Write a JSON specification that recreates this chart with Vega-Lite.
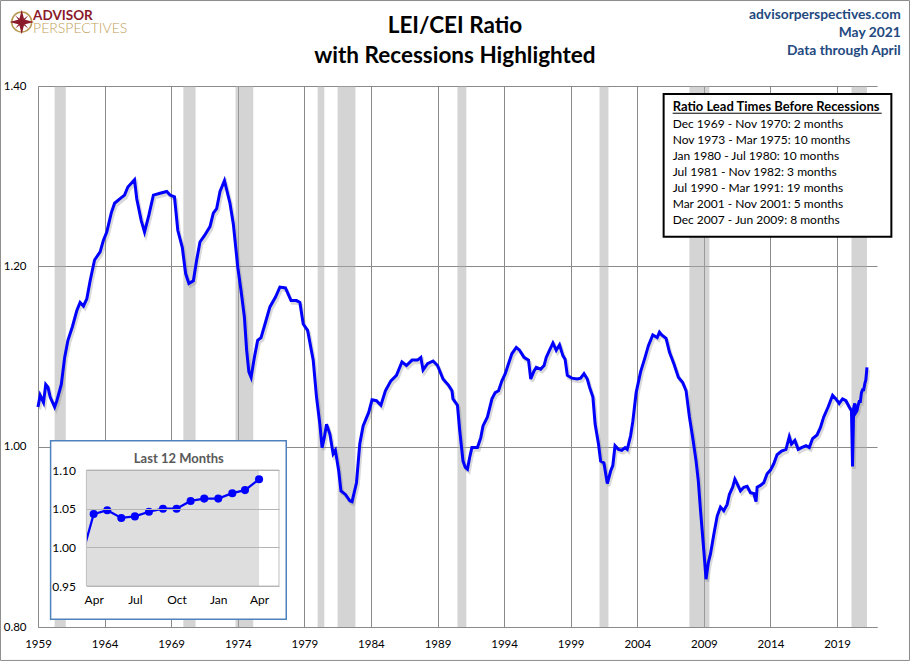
{
  "$schema": "https://vega.github.io/schema/vega-lite/v6.json",
  "autosize": "none",
  "width": 839,
  "height": 541,
  "padding": {"left": 38, "top": 86, "right": 33, "bottom": 34},
  "background": "white",
  "datasets": {
    "ratio": [
      {"date": "1959-01-01", "value": 1.044}, {"date": "1959-03-01", "value": 1.057}, {"date": "1959-06-01", "value": 1.049},
      {"date": "1959-08-01", "value": 1.069}, {"date": "1959-10-01", "value": 1.066}, {"date": "1959-12-01", "value": 1.055},
      {"date": "1960-04-01", "value": 1.044}, {"date": "1960-06-01", "value": 1.051}, {"date": "1960-10-01", "value": 1.069},
      {"date": "1961-01-01", "value": 1.099}, {"date": "1961-04-01", "value": 1.118}, {"date": "1961-08-01", "value": 1.133},
      {"date": "1961-12-01", "value": 1.151}, {"date": "1962-03-01", "value": 1.160}, {"date": "1962-06-01", "value": 1.156},
      {"date": "1962-09-01", "value": 1.164}, {"date": "1962-12-01", "value": 1.184}, {"date": "1963-04-01", "value": 1.207},
      {"date": "1963-09-01", "value": 1.216}, {"date": "1963-12-01", "value": 1.229}, {"date": "1964-03-01", "value": 1.238},
      {"date": "1964-07-01", "value": 1.259}, {"date": "1964-10-01", "value": 1.270}, {"date": "1965-03-01", "value": 1.275},
      {"date": "1965-07-01", "value": 1.279}, {"date": "1965-10-01", "value": 1.288}, {"date": "1966-04-01", "value": 1.296},
      {"date": "1966-06-01", "value": 1.275}, {"date": "1966-10-01", "value": 1.251}, {"date": "1967-01-01", "value": 1.238},
      {"date": "1967-05-01", "value": 1.257}, {"date": "1967-09-01", "value": 1.279}, {"date": "1968-03-01", "value": 1.281},
      {"date": "1968-09-01", "value": 1.283}, {"date": "1968-12-01", "value": 1.279}, {"date": "1969-04-01", "value": 1.277},
      {"date": "1969-07-01", "value": 1.240}, {"date": "1969-11-01", "value": 1.221}, {"date": "1970-02-01", "value": 1.192},
      {"date": "1970-05-01", "value": 1.181}, {"date": "1970-09-01", "value": 1.184}, {"date": "1970-12-01", "value": 1.207},
      {"date": "1971-03-01", "value": 1.227}, {"date": "1971-07-01", "value": 1.234}, {"date": "1971-12-01", "value": 1.244},
      {"date": "1972-03-01", "value": 1.259}, {"date": "1972-06-01", "value": 1.264}, {"date": "1972-09-01", "value": 1.283},
      {"date": "1973-01-01", "value": 1.295}, {"date": "1973-06-01", "value": 1.270}, {"date": "1973-09-01", "value": 1.247},
      {"date": "1974-01-01", "value": 1.199}, {"date": "1974-04-01", "value": 1.173}, {"date": "1974-07-01", "value": 1.144},
      {"date": "1974-09-01", "value": 1.107}, {"date": "1974-11-01", "value": 1.083}, {"date": "1975-01-01", "value": 1.077},
      {"date": "1975-04-01", "value": 1.099}, {"date": "1975-07-01", "value": 1.118}, {"date": "1975-10-01", "value": 1.121},
      {"date": "1976-02-01", "value": 1.138}, {"date": "1976-06-01", "value": 1.155}, {"date": "1976-11-01", "value": 1.166},
      {"date": "1977-03-01", "value": 1.177}, {"date": "1977-08-01", "value": 1.176}, {"date": "1978-01-01", "value": 1.162},
      {"date": "1978-06-01", "value": 1.162}, {"date": "1978-09-01", "value": 1.160}, {"date": "1978-12-01", "value": 1.136},
      {"date": "1979-04-01", "value": 1.129}, {"date": "1979-09-01", "value": 1.096}, {"date": "1979-12-01", "value": 1.055},
      {"date": "1980-03-01", "value": 1.025}, {"date": "1980-05-01", "value": 0.999}, {"date": "1980-07-01", "value": 1.010},
      {"date": "1980-09-01", "value": 1.025}, {"date": "1980-12-01", "value": 1.014}, {"date": "1981-03-01", "value": 0.992},
      {"date": "1981-05-01", "value": 0.996}, {"date": "1981-08-01", "value": 0.973}, {"date": "1981-10-01", "value": 0.951},
      {"date": "1982-02-01", "value": 0.947}, {"date": "1982-06-01", "value": 0.940}, {"date": "1982-08-01", "value": 0.939},
      {"date": "1982-12-01", "value": 0.960}, {"date": "1983-03-01", "value": 1.003}, {"date": "1983-06-01", "value": 1.023},
      {"date": "1983-11-01", "value": 1.038}, {"date": "1984-02-01", "value": 1.052}, {"date": "1984-06-01", "value": 1.051},
      {"date": "1984-10-01", "value": 1.046}, {"date": "1985-02-01", "value": 1.062}, {"date": "1985-07-01", "value": 1.073},
      {"date": "1985-12-01", "value": 1.079}, {"date": "1986-05-01", "value": 1.094}, {"date": "1986-09-01", "value": 1.090},
      {"date": "1987-02-01", "value": 1.096}, {"date": "1987-07-01", "value": 1.096}, {"date": "1987-10-01", "value": 1.099},
      {"date": "1987-12-01", "value": 1.085}, {"date": "1988-04-01", "value": 1.092}, {"date": "1988-09-01", "value": 1.095},
      {"date": "1989-01-01", "value": 1.090}, {"date": "1989-06-01", "value": 1.075}, {"date": "1989-11-01", "value": 1.068},
      {"date": "1990-02-01", "value": 1.062}, {"date": "1990-03-01", "value": 1.053}, {"date": "1990-07-01", "value": 1.046},
      {"date": "1990-09-01", "value": 1.018}, {"date": "1990-12-01", "value": 0.984}, {"date": "1991-02-01", "value": 0.977},
      {"date": "1991-04-01", "value": 0.975}, {"date": "1991-06-01", "value": 0.988}, {"date": "1991-08-01", "value": 0.999},
      {"date": "1992-01-01", "value": 0.999}, {"date": "1992-04-01", "value": 1.010}, {"date": "1992-06-01", "value": 1.023},
      {"date": "1992-10-01", "value": 1.033}, {"date": "1993-02-01", "value": 1.053}, {"date": "1993-05-01", "value": 1.060},
      {"date": "1993-08-01", "value": 1.062}, {"date": "1993-11-01", "value": 1.073}, {"date": "1994-02-01", "value": 1.081},
      {"date": "1994-05-01", "value": 1.092}, {"date": "1994-08-01", "value": 1.103}, {"date": "1994-12-01", "value": 1.110},
      {"date": "1995-03-01", "value": 1.107}, {"date": "1995-07-01", "value": 1.099}, {"date": "1995-11-01", "value": 1.096},
      {"date": "1996-01-01", "value": 1.075}, {"date": "1996-04-01", "value": 1.084}, {"date": "1996-06-01", "value": 1.088},
      {"date": "1996-10-01", "value": 1.086}, {"date": "1997-01-01", "value": 1.090}, {"date": "1997-03-01", "value": 1.099},
      {"date": "1997-06-01", "value": 1.107}, {"date": "1997-09-01", "value": 1.115}, {"date": "1997-12-01", "value": 1.107},
      {"date": "1998-03-01", "value": 1.113}, {"date": "1998-06-01", "value": 1.101}, {"date": "1998-08-01", "value": 1.097},
      {"date": "1998-10-01", "value": 1.079}, {"date": "1999-02-01", "value": 1.076}, {"date": "1999-07-01", "value": 1.075},
      {"date": "1999-10-01", "value": 1.076}, {"date": "2000-01-01", "value": 1.081}, {"date": "2000-04-01", "value": 1.075},
      {"date": "2000-06-01", "value": 1.066}, {"date": "2000-09-01", "value": 1.055}, {"date": "2000-11-01", "value": 1.025},
      {"date": "2001-02-01", "value": 1.003}, {"date": "2001-04-01", "value": 0.984}, {"date": "2001-07-01", "value": 0.982},
      {"date": "2001-10-01", "value": 0.959}, {"date": "2002-01-01", "value": 0.973}, {"date": "2002-03-01", "value": 0.979},
      {"date": "2002-05-01", "value": 1.001}, {"date": "2002-08-01", "value": 0.997}, {"date": "2002-11-01", "value": 0.996},
      {"date": "2003-02-01", "value": 0.999}, {"date": "2003-04-01", "value": 0.997}, {"date": "2003-07-01", "value": 1.012},
      {"date": "2003-09-01", "value": 1.028}, {"date": "2003-12-01", "value": 1.060}, {"date": "2004-04-01", "value": 1.083},
      {"date": "2004-08-01", "value": 1.099}, {"date": "2004-11-01", "value": 1.112}, {"date": "2005-03-01", "value": 1.124},
      {"date": "2005-07-01", "value": 1.121}, {"date": "2005-09-01", "value": 1.127}, {"date": "2005-11-01", "value": 1.124},
      {"date": "2006-03-01", "value": 1.120}, {"date": "2006-06-01", "value": 1.105}, {"date": "2006-10-01", "value": 1.092},
      {"date": "2007-02-01", "value": 1.077}, {"date": "2007-06-01", "value": 1.071}, {"date": "2007-09-01", "value": 1.062},
      {"date": "2007-12-01", "value": 1.033}, {"date": "2008-03-01", "value": 1.010}, {"date": "2008-06-01", "value": 0.984},
      {"date": "2008-08-01", "value": 0.962}, {"date": "2008-10-01", "value": 0.929}, {"date": "2009-01-01", "value": 0.884},
      {"date": "2009-03-01", "value": 0.853}, {"date": "2009-05-01", "value": 0.871}, {"date": "2009-07-01", "value": 0.881},
      {"date": "2009-10-01", "value": 0.903}, {"date": "2010-01-01", "value": 0.923}, {"date": "2010-04-01", "value": 0.933},
      {"date": "2010-07-01", "value": 0.929}, {"date": "2010-10-01", "value": 0.936}, {"date": "2010-12-01", "value": 0.947},
      {"date": "2011-03-01", "value": 0.955}, {"date": "2011-05-01", "value": 0.964}, {"date": "2011-07-01", "value": 0.959},
      {"date": "2011-10-01", "value": 0.951}, {"date": "2012-01-01", "value": 0.955}, {"date": "2012-04-01", "value": 0.956},
      {"date": "2012-07-01", "value": 0.949}, {"date": "2012-10-01", "value": 0.948}, {"date": "2012-12-01", "value": 0.939},
      {"date": "2013-01-01", "value": 0.955}, {"date": "2013-04-01", "value": 0.957}, {"date": "2013-07-01", "value": 0.960},
      {"date": "2013-10-01", "value": 0.970}, {"date": "2014-01-01", "value": 0.974}, {"date": "2014-04-01", "value": 0.981},
      {"date": "2014-07-01", "value": 0.991}, {"date": "2014-11-01", "value": 0.995}, {"date": "2015-03-01", "value": 0.997},
      {"date": "2015-06-01", "value": 1.011}, {"date": "2015-08-01", "value": 1.003}, {"date": "2015-11-01", "value": 1.007},
      {"date": "2016-02-01", "value": 0.997}, {"date": "2016-05-01", "value": 0.999}, {"date": "2016-09-01", "value": 1.001},
      {"date": "2016-12-01", "value": 0.999}, {"date": "2017-03-01", "value": 1.009}, {"date": "2017-07-01", "value": 1.013},
      {"date": "2017-10-01", "value": 1.021}, {"date": "2018-01-01", "value": 1.033}, {"date": "2018-05-01", "value": 1.044},
      {"date": "2018-09-01", "value": 1.057}, {"date": "2018-12-01", "value": 1.053}, {"date": "2019-03-01", "value": 1.048},
      {"date": "2019-06-01", "value": 1.053}, {"date": "2019-09-01", "value": 1.051}, {"date": "2019-12-01", "value": 1.044},
      {"date": "2020-02-01", "value": 1.040}, {"date": "2020-03-01", "value": 0.978}, {"date": "2020-04-01", "value": 1.043},
      {"date": "2020-05-01", "value": 1.048}, {"date": "2020-06-01", "value": 1.038}, {"date": "2020-07-01", "value": 1.040},
      {"date": "2020-08-01", "value": 1.046}, {"date": "2020-09-01", "value": 1.050}, {"date": "2020-10-01", "value": 1.050},
      {"date": "2020-11-01", "value": 1.060}, {"date": "2020-12-01", "value": 1.063}, {"date": "2021-01-01", "value": 1.063},
      {"date": "2021-02-01", "value": 1.070}, {"date": "2021-03-01", "value": 1.074}, {"date": "2021-04-01", "value": 1.088}
    ],
    "recessions": [
      {"start": "1960-04-01", "end": "1961-02-01"},
      {"start": "1969-12-01", "end": "1970-11-01"},
      {"start": "1973-11-01", "end": "1975-03-01"},
      {"start": "1980-01-01", "end": "1980-07-01"},
      {"start": "1981-07-01", "end": "1982-11-01"},
      {"start": "1990-07-01", "end": "1991-03-01"},
      {"start": "2001-03-01", "end": "2001-11-01"},
      {"start": "2007-12-01", "end": "2009-06-01"},
      {"start": "2020-02-01", "end": "2021-04-01"}
    ],
    "one": [{}]
  },
  "layer": [
    {
      "layer": [
        {
          "data": {"name": "one"},
          "mark": {"type": "rect", "fillOpacity": 0, "stroke": "#8c8c8c", "strokeWidth": 1},
          "encoding": {
            "x": {"datum": {"year": 1956, "month": 3, "date": 8, "utc": true}, "type": "temporal", "scale": {"type": "utc", "domain": [{"year": 1959, "month": 1, "date": 1, "utc": true}, {"year": 2022, "month": 1, "date": 1, "utc": true}]}},
            "x2": {"datum": {"year": 2024, "month": 6, "date": 10, "utc": true}},
            "y": {"datum": 1.4948, "type": "quantitative", "scale": {"domain": [0.8, 1.4], "zero": false, "nice": false}},
            "y2": {"datum": 0.7629}
          }
        },
        {
          "data": {"name": "recessions"},
          "mark": {"type": "rect", "fill": "#a9a9a9", "fillOpacity": 0.5},
          "encoding": {
            "x": {"field": "start", "type": "temporal", "scale": {"type": "utc", "domain": [{"year": 1959, "month": 1, "date": 1, "utc": true}, {"year": 2022, "month": 1, "date": 1, "utc": true}]}},
            "x2": {"field": "end"}
          }
        },
        {
          "data": {"name": "ratio"},
          "mark": {"type": "line", "stroke": "#808080", "strokeWidth": 3.5, "opacity": 0.3, "xOffset": 1.5, "yOffset": 2.5},
          "encoding": {
            "x": {"field": "date", "type": "temporal", "scale": {"type": "utc", "domain": [{"year": 1959, "month": 1, "date": 1, "utc": true}, {"year": 2022, "month": 1, "date": 1, "utc": true}]}},
            "y": {"field": "value", "type": "quantitative", "scale": {"domain": [0.8, 1.4], "zero": false, "nice": false}}
          }
        },
        {
          "data": {"name": "ratio"},
          "mark": {"type": "line", "stroke": "#0000ff", "strokeWidth": 3},
          "encoding": {
            "x": {
              "field": "date", "type": "temporal",
              "scale": {"type": "utc", "domain": [{"year": 1959, "month": 1, "date": 1, "utc": true}, {"year": 2022, "month": 1, "date": 1, "utc": true}]},
              "axis": {
                "title": null, "orient": "bottom", "format": "%Y", "grid": true, "ticks": false,
                "labelPadding": 11, "labelFontSize": 11.5, "labelAngle": 0, "labelOverlap": false, "labelFlush": false,
                "values": [
                  {"year": 1959, "month": 1, "date": 1, "utc": true}, {"year": 1964, "month": 1, "date": 1, "utc": true},
                  {"year": 1969, "month": 1, "date": 1, "utc": true}, {"year": 1974, "month": 1, "date": 1, "utc": true},
                  {"year": 1979, "month": 1, "date": 1, "utc": true}, {"year": 1984, "month": 1, "date": 1, "utc": true},
                  {"year": 1989, "month": 1, "date": 1, "utc": true}, {"year": 1994, "month": 1, "date": 1, "utc": true},
                  {"year": 1999, "month": 1, "date": 1, "utc": true}, {"year": 2004, "month": 1, "date": 1, "utc": true},
                  {"year": 2009, "month": 1, "date": 1, "utc": true}, {"year": 2014, "month": 1, "date": 1, "utc": true},
                  {"year": 2019, "month": 1, "date": 1, "utc": true}
                ]
              }
            },
            "y": {
              "field": "value", "type": "quantitative",
              "scale": {"domain": [0.8, 1.4], "zero": false, "nice": false},
              "axis": {"title": null, "orient": "left", "values": [0.8, 1.0, 1.2, 1.4], "format": ".2f", "grid": true, "ticks": false, "labelPadding": 12, "labelFontSize": 11.5, "labelFlush": false}
            }
          }
        },
        {
          "data": {"name": "one"},
          "mark": {
            "type": "text", "align": "center", "baseline": "alphabetic", "fontSize": 22.5, "fontWeight": "bold", "lineHeight": 30, "color": "#000000",
            "text": ["LEI/CEI Ratio", "with Recessions Highlighted"]
          },
          "encoding": {
            "x": {"datum": {"year": 1990, "month": 4, "date": 23, "utc": true}, "type": "temporal"},
            "y": {"datum": 1.4591, "type": "quantitative"}
          }
        },
        {
          "data": {"name": "one"},
          "mark": {"type": "rect", "fill": "white", "stroke": "#000000", "strokeWidth": 2},
          "encoding": {
            "x": {"datum": {"year": 2005, "month": 12, "date": 24, "utc": true}, "type": "temporal"},
            "x2": {"datum": {"year": 2023, "month": 1, "date": 30, "utc": true}},
            "y": {"datum": 1.3911, "type": "quantitative"},
            "y2": {"datum": 1.2329}
          }
        },
        {
          "data": {"name": "one"},
          "mark": {"type": "text", "text": "Ratio Lead Times Before Recessions", "align": "left", "baseline": "alphabetic", "fontSize": 13, "fontWeight": "bold", "color": "#000000"},
          "encoding": {
            "x": {"datum": {"year": 2006, "month": 8, "date": 29, "utc": true}, "type": "temporal"},
            "y": {"datum": 1.3726, "type": "quantitative"}
          }
        },
        {
          "data": {"name": "one"},
          "mark": {"type": "rule", "stroke": "#000000", "strokeWidth": 1},
          "encoding": {
            "x": {"datum": {"year": 2006, "month": 8, "date": 29, "utc": true}, "type": "temporal"},
            "x2": {"datum": {"year": 2022, "month": 5, "date": 10, "utc": true}},
            "y": {"datum": 1.3698, "type": "quantitative"}
          }
        },
        {
          "data": {"name": "one"},
          "mark": {
            "type": "text", "align": "left", "baseline": "alphabetic", "fontSize": 12, "lineHeight": 16.1, "color": "#000000",
            "text": [
              "Dec 1969 - Nov 1970: 2 months",
              "Nov 1973 - Mar 1975: 10 months",
              "Jan 1980 - Jul 1980: 10 months",
              "Jul 1981 - Nov 1982: 3 months",
              "Jul 1990 - Mar 1991: 19 months",
              "Mar 2001 - Nov 2001: 5 months",
              "Dec 2007 - Jun 2009: 8 months"
            ]
          },
          "encoding": {
            "x": {"datum": {"year": 2006, "month": 8, "date": 29, "utc": true}, "type": "temporal"},
            "y": {"datum": 1.3538, "type": "quantitative"}
          }
        },
        {
          "data": {"name": "one"},
          "mark": {
            "type": "text", "align": "right", "baseline": "alphabetic", "fontSize": 13.8, "fontWeight": "bold", "lineHeight": 17.9, "color": "#23497f",
            "text": ["advisorperspectives.com", "May 2021", "Data through April"]
          },
          "encoding": {
            "x": {"datum": {"year": 2023, "month": 10, "date": 13, "utc": true}, "type": "temporal"},
            "y": {"datum": 1.474, "type": "quantitative"}
          }
        },
        {
          "data": {"name": "one"},
          "mark": {"type": "point", "shape": "circle", "size": 400, "filled": false, "stroke": "#b8964f", "strokeWidth": 1.5, "opacity": 1},
          "encoding": {
            "x": {"datum": {"year": 1957, "month": 10, "date": 11, "utc": true}, "type": "temporal"},
            "y": {"datum": 1.471, "type": "quantitative"}
          }
        },
        {
          "data": {"name": "one"},
          "mark": {"type": "point", "shape": "M0,-1L0.2,-0.2L1,0L0.2,0.2L0,1L-0.2,0.2L-1,0L-0.2,-0.2Z M0.55,-0.55L0.12,0L0.55,0.55L0,0.12L-0.55,0.55L-0.12,0L-0.55,-0.55L0,-0.12Z", "size": 600, "filled": true, "fill": "#8b1a2b", "strokeWidth": 0, "opacity": 1},
          "encoding": {
            "x": {"datum": {"year": 1957, "month": 10, "date": 11, "utc": true}, "type": "temporal"},
            "y": {"datum": 1.471, "type": "quantitative"}
          }
        },
        {
          "data": {"name": "one"},
          "mark": {"type": "text", "text": "ADVISOR", "align": "left", "baseline": "alphabetic", "fontSize": 13.5, "fontWeight": "bold", "color": "#8b1a2b"},
          "encoding": {
            "x": {"datum": {"year": 1958, "month": 8, "date": 20, "utc": true}, "type": "temporal"},
            "y": {"datum": 1.4735, "type": "quantitative"}
          }
        },
        {
          "data": {"name": "one"},
          "mark": {"type": "text", "text": "PERSPECTIVES", "align": "left", "baseline": "alphabetic", "fontSize": 14, "fontWeight": 300, "color": "#c2a05a"},
          "encoding": {
            "x": {"datum": {"year": 1958, "month": 8, "date": 20, "utc": true}, "type": "temporal"},
            "y": {"datum": 1.4590, "type": "quantitative"}
          }
        }
      ]
    },
    {
      "layer": [
        {
          "data": {"name": "one"},
          "mark": {"type": "rect", "fill": "white", "stroke": "#4f81bd", "strokeWidth": 1.5},
          "encoding": {
            "x": {"datum": {"year": 2019, "month": 12, "date": 28, "utc": true}, "type": "temporal", "scale": {"type": "utc", "domain": [{"year": 2020, "month": 3, "date": 16, "utc": true}, {"year": 2021, "month": 5, "date": 15, "utc": true}], "range": [48.4, 241]}},
            "x2": {"datum": {"year": 2021, "month": 5, "date": 31, "utc": true}},
            "y": {"datum": 1.1379, "type": "quantitative", "scale": {"domain": [0.95, 1.10], "range": [500, 384], "zero": false, "nice": false}},
            "y2": {"datum": 0.9069}
          }
        },
        {
          "data": {"name": "one"},
          "mark": {"type": "rect", "fill": "#dedede"},
          "encoding": {
            "x": {"datum": {"year": 2020, "month": 3, "date": 16, "utc": true}, "type": "temporal"},
            "x2": {"datum": {"year": 2021, "month": 4, "date": 1, "utc": true}},
            "y": {"datum": 1.10, "type": "quantitative"},
            "y2": {"datum": 0.95}
          }
        },
        {
          "data": {"name": "ratio"},
          "transform": [{"filter": {"field": "date", "gte": {"year": 2020, "month": 3, "date": 1, "utc": true}}}],
          "mark": {"type": "line", "stroke": "#0000ff", "strokeWidth": 2.25},
          "encoding": {
            "x": {
              "field": "date", "type": "temporal",
              "scale": {"type": "utc", "domain": [{"year": 2020, "month": 3, "date": 16, "utc": true}, {"year": 2021, "month": 5, "date": 15, "utc": true}], "range": [48.4, 241]},
              "axis": {
                "title": null, "orient": "bottom", "offset": -41, "format": "%b", "grid": false, "domain": false, "ticks": false,
                "labelPadding": 8, "labelFontSize": 12, "labelAngle": 0, "labelOverlap": false, "labelFlush": false, "zindex": 1,
                "values": [
                  {"year": 2020, "month": 4, "date": 1, "utc": true}, {"year": 2020, "month": 7, "date": 1, "utc": true},
                  {"year": 2020, "month": 10, "date": 1, "utc": true}, {"year": 2021, "month": 1, "date": 1, "utc": true},
                  {"year": 2021, "month": 4, "date": 1, "utc": true}
                ]
              }
            },
            "y": {
              "field": "value", "type": "quantitative",
              "scale": {"domain": [0.95, 1.10], "range": [500, 384], "zero": false, "nice": false},
              "axis": {"title": null, "orient": "left", "offset": -48.4, "values": [0.95, 1.0, 1.05, 1.10], "format": ".2f", "grid": true, "gridColor": "#b4b4b4", "domain": false, "ticks": false, "labelPadding": 11, "labelFontSize": 12, "labelFlush": false, "zindex": 1}
            }
          }
        },
        {
          "data": {"name": "ratio"},
          "transform": [{"filter": {"field": "date", "gte": {"year": 2020, "month": 4, "date": 1, "utc": true}}}],
          "mark": {"type": "point", "shape": "circle", "filled": true, "fill": "#0000ff", "size": 65, "opacity": 1},
          "encoding": {
            "x": {"field": "date", "type": "temporal"},
            "y": {"field": "value", "type": "quantitative"}
          }
        },
        {
          "data": {"name": "one"},
          "mark": {"type": "rect", "fill": "white"},
          "encoding": {
            "x": {"datum": {"year": 2020, "month": 1, "date": 2, "utc": true}, "type": "temporal"},
            "x2": {"datum": {"year": 2020, "month": 3, "date": 16, "utc": true}},
            "y": {"datum": 1.12, "type": "quantitative"},
            "y2": {"datum": 0.93}
          }
        },
        {
          "data": {"name": "one"},
          "mark": {"type": "rect", "fillOpacity": 0, "stroke": "#bfbfbf", "strokeWidth": 1},
          "encoding": {
            "x": {"datum": {"year": 2020, "month": 3, "date": 16, "utc": true}, "type": "temporal"},
            "x2": {"datum": {"year": 2021, "month": 5, "date": 15, "utc": true}},
            "y": {"datum": 1.10, "type": "quantitative"},
            "y2": {"datum": 0.95}
          }
        },
        {
          "data": {"name": "one"},
          "mark": {"type": "text", "text": "Last 12 Months", "align": "center", "baseline": "alphabetic", "fontSize": 13, "fontWeight": "bold", "color": "#595959"},
          "encoding": {
            "x": {"datum": {"year": 2020, "month": 10, "date": 6, "utc": true}, "type": "temporal"},
            "y": {"datum": 1.1094, "type": "quantitative"}
          }
        }
      ]
    }
  ],
  "resolve": {"scale": {"x": "independent", "y": "independent"}},
  "config": {
    "font": "Lato",
    "view": {"stroke": null},
    "axis": {
      "labelFont": "Lato",
      "labelColor": "#000000",
      "gridColor": "#8a8a8a",
      "gridOpacity": 1,
      "domainColor": "#8a8a8a",
      "domainWidth": 1
    }
  }
}
